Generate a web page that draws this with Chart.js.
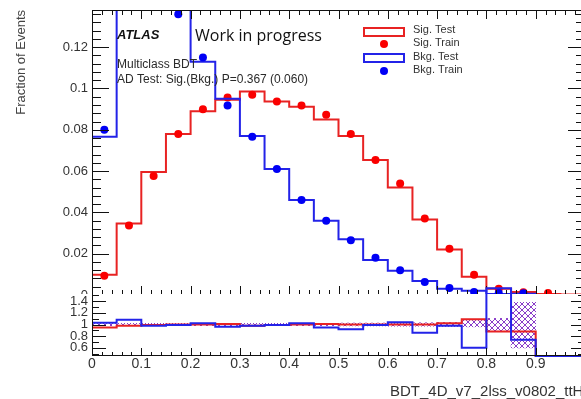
<!DOCTYPE html>
<html>
<head>
<meta charset="utf-8">
<script src="https://cdn.jsdelivr.net/npm/chart.js@4.4.1/dist/chart.umd.min.js"></script>
<style>
  html, body { margin: 0; padding: 0; background: #fff; overflow: hidden; }
  #wrap { position: relative; width: 581px; height: 399px; overflow: hidden; }
  #mainBox { position: absolute; left: 0; top: 0; width: 600px; height: 294px; overflow: hidden; }
  #mainCanvas { position: absolute; left: 0; top: 0; }
  #ratioCanvas { position: absolute; left: 0; top: 280px; }
</style>
</head>
<body>
<div id="wrap">
  <div id="mainBox"><canvas id="mainCanvas" width="600" height="299"></canvas></div>
  <canvas id="ratioCanvas" width="600" height="119"></canvas>
</div>
<script>
// BDT score binning (20 bins of 0.05)
const binEdges = [0, 0.05, 0.1, 0.15, 0.2, 0.25, 0.3, 0.35, 0.4, 0.45, 0.5,
                  0.55, 0.6, 0.65, 0.7, 0.75, 0.8, 0.85, 0.9, 0.95, 1.0];

// normalised distributions
const sigTest  = [0.0098, 0.0346, 0.0595, 0.078, 0.089, 0.0946, 0.0985, 0.0937, 0.0912, 0.085,
                  0.077, 0.0654, 0.052, 0.0366, 0.022, 0.0088, 0.003, 0.0015, 0.0005, 0.0002];
const sigTrain = [0.0093, 0.0337, 0.0576, 0.078, 0.090, 0.0956, 0.097, 0.0937, 0.0917, 0.0873,
                  0.078, 0.0654, 0.054, 0.037, 0.0224, 0.0098, 0.003, 0.0013, 0.001, null];
const bkgTest  = [0.0766, 0.165, 0.16, 0.142, 0.113, 0.095, 0.077, 0.061, 0.046, 0.036,
                  0.027, 0.017, 0.0117, 0.0068, 0.003, 0.002, 0.0005, 0.0006, 0, 0];
const bkgTrain = [0.080, 0.16, 0.158, 0.136, 0.115, 0.0917, 0.0766, 0.061, 0.046, 0.036,
                  0.0265, 0.018, 0.012, 0.0063, 0.0034, 0.0015, 0.001, 0.0008, null, null];

// ratio panel
const sigRatio = [0.95, 0.98, 0.99, 1.0, 1.0, 1.01, 0.98, 0.99, 1.0, 1.01,
                  1.0, 1.0, 1.0, 1.0, 1.02, 1.09, 0.88, 0.88, 0, 0];
const bkgRatio = [1.03, 1.08, 0.98, 0.99, 1.02, 0.96, 0.98, 0.99, 1.02, 0.95,
                  0.92, 0.99, 1.04, 0.86, 0.98, 0.60, 1.62, 0.74, 0, 0];
const bandLow  = [0.98, 0.98, 0.98, 0.98, 0.98, 0.98, 0.98, 0.98, 0.98, 0.98,
                  0.975, 0.975, 0.97, 0.97, 0.965, 0.96, 0.877, 0.60, null, null];
const bandHigh = [1.02, 1.02, 1.02, 1.02, 1.02, 1.02, 1.02, 1.02, 1.02, 1.02,
                  1.025, 1.025, 1.03, 1.03, 1.035, 1.08, 1.105, 1.38, null, null];

const legendLabels = ['Sig. Test', 'Sig. Train', 'Bkg. Test', 'Bkg. Train'];
const ratioMin = 0.46, ratioMax = 1.54;

const RED_LINE = 'rgb(232,35,35)';
const RED_DOT = 'rgb(250,0,0)';
const BLUE_LINE = 'rgb(35,35,232)';
const BLUE_DOT = 'rgb(0,0,245)';
const FONT = '"Liberation Sans", Arial, sans-serif';

// histogram outline: one point per bin edge, last bin repeated
function histPoints(values, lo) {
  return binEdges.map((e, i) => {
    let v = values[Math.min(i, values.length - 1)];
    if (lo !== undefined) v = Math.max(v, lo);
    return { x: e, y: v };
  });
}
function binCenters(values) {
  return values.map((v, i) => ({ x: (binEdges[i] + binEdges[i + 1]) / 2, y: v }));
}
function fmt(v) { return String(+v.toFixed(4)); }

// fixed-width y axis, no extra label padding around the plot area
function fixYAxis(scale) {
  scale.width = 92;
  scale.paddingTop = 0;
  scale.paddingBottom = 0;
}

function crossHatch() {
  const c = document.createElement('canvas');
  c.width = 6; c.height = 6;
  const g = c.getContext('2d');
  g.strokeStyle = 'rgba(125,40,195,0.9)';
  g.lineWidth = 1;
  g.beginPath();
  g.moveTo(0, 0); g.lineTo(6, 6);
  g.moveTo(6, 0); g.lineTo(0, 6);
  g.stroke();
  return g.createPattern(c, 'repeat');
}

// ROOT-style frame with inward ticks
const frameTicks = {
  id: 'frameTicks',
  afterDatasetsDraw(chart, args, opts) {
    const { ctx, chartArea: a, scales } = chart;
    ctx.save();
    ctx.strokeStyle = '#111';
    ctx.lineWidth = 1;
    ctx.beginPath();
    ctx.moveTo(a.left + 0.5, a.bottom - 0.5);
    ctx.lineTo(a.left + 0.5, a.top + 0.5);
    if (!opts.noTop) ctx.lineTo(a.right - 0.5, a.top + 0.5);
    else ctx.moveTo(a.right - 0.5, a.top + 0.5);
    ctx.lineTo(a.right - 0.5, a.bottom - 0.5);
    ctx.lineTo(a.left + 0.5, a.bottom - 0.5);
    ['x', 'y'].forEach(id => {
      const o = opts[id], sc = scales[id];
      const k0 = Math.ceil(sc.min / o.minor - 1e-6), k1 = Math.floor(sc.max / o.minor + 1e-6);
      for (let k = k0; k <= k1; k++) {
        const v = k * o.minor;
        const major = Math.abs(v / o.major - Math.round(v / o.major)) < 1e-6;
        const len = major ? o.majorLen : o.minorLen;
        const p = Math.round(sc.getPixelForValue(v)) + 0.5;
        o.sides.forEach(s => {
          if (s === 'top') { ctx.moveTo(p, a.top); ctx.lineTo(p, a.top + len); }
          if (s === 'bottom') { ctx.moveTo(p, a.bottom); ctx.lineTo(p, a.bottom - len); }
          if (s === 'left') { ctx.moveTo(a.left, p); ctx.lineTo(a.left + len, p); }
          if (s === 'right') { ctx.moveTo(a.right, p); ctx.lineTo(a.right - len, p); }
        });
      }
    });
    ctx.stroke();
    ctx.restore();
  }
};

// labels and legend of the upper pad
const mainText = {
  id: 'mainText',
  afterDraw(chart) {
    const ctx = chart.ctx;
    ctx.save();
    ctx.textBaseline = 'middle';
    ctx.textAlign = 'left';
    ctx.fillStyle = '#111';
    ctx.font = 'italic bold 13px ' + FONT;
    ctx.fillText('ATLAS', 117, 35);
    ctx.font = '16px "Open Sans", sans-serif';
    ctx.fillText('Work in progress', 195, 36);
    ctx.fillStyle = '#2a2a2a';
    ctx.font = '12px ' + FONT;
    ctx.fillText('Multiclass BDT', 117, 65);
    ctx.fillText('AD Test: Sig.(Bkg.) P=0.367 (0.060)', 117, 80);

    // legend
    ctx.lineWidth = 2;
    ctx.strokeStyle = RED_LINE;
    ctx.strokeRect(364, 28, 40, 8);
    ctx.strokeStyle = BLUE_LINE;
    ctx.strokeRect(364, 54, 40, 8);
    ctx.fillStyle = RED_DOT;
    ctx.beginPath(); ctx.arc(384, 44, 4, 0, Math.PI * 2); ctx.fill();
    ctx.fillStyle = BLUE_DOT;
    ctx.beginPath(); ctx.arc(384, 71, 4, 0, Math.PI * 2); ctx.fill();
    ctx.fillStyle = '#333';
    ctx.font = '11px ' + FONT;
    [30, 43, 57, 70].forEach((y, i) => ctx.fillText(legendLabels[i], 413, y));
    ctx.restore();
  }
};

const ratioText = {
  id: 'ratioText',
  afterDraw(chart) {
    const ctx = chart.ctx;
    ctx.save();
    ctx.fillStyle = '#333';
    ctx.font = '15px ' + FONT;
    ctx.textBaseline = 'middle';
    ctx.fillText('BDT_4D_v7_2lss_v0802_ttH', 390, 112);
    ctx.restore();
  }
};

const common = {
  responsive: false,
  devicePixelRatio: 1,
  animation: false,
  events: [],
  plugins: { legend: { display: false }, tooltip: { enabled: false } }
};

new Chart(document.getElementById('mainCanvas'), {
  type: 'line',
  data: {
    datasets: [
      { data: binCenters(bkgTrain), showLine: false, pointRadius: 4, pointBorderWidth: 0,
        pointBackgroundColor: BLUE_DOT, borderColor: BLUE_DOT },
      { data: histPoints(bkgTest), stepped: true, borderColor: BLUE_LINE, borderWidth: 2,
        pointRadius: 0, fill: false, borderJoinStyle: 'miter' },
      { data: binCenters(sigTrain), showLine: false, pointRadius: 4, pointBorderWidth: 0,
        pointBackgroundColor: RED_DOT, borderColor: RED_DOT },
      { data: histPoints(sigTest), stepped: true, borderColor: RED_LINE, borderWidth: 2,
        pointRadius: 0, fill: false, borderJoinStyle: 'miter' }
    ]
  },
  options: {
    ...common,
    layout: { padding: { left: 0, top: 10, right: 15, bottom: 1 } },
    scales: {
      x: { type: 'linear', min: 0, max: 1, display: false, ticks: { display: false } },
      y: {
        min: 0, max: 0.138,
        afterFit: fixYAxis,
        grid: { display: false, drawTicks: false },
        border: { display: false },
        ticks: { stepSize: 0.02, includeBounds: false, autoSkip: false, padding: 4, color: '#333',
                 font: { family: FONT, size: 13 }, callback: fmt },
        title: { display: true, text: 'Fraction of Events', align: 'end', color: '#444',
                 font: { family: FONT, size: 13 }, padding: { top: 14, bottom: 0 } }
      }
    },
    plugins: {
      ...common.plugins,
      frameTicks: {
        x: { major: 0.1, minor: 0.02, majorLen: 9, minorLen: 5, sides: ['top', 'bottom'] },
        y: { major: 0.02, minor: 0.004, majorLen: 17, minorLen: 9, sides: ['left', 'right'] }
      }
    }
  },
  plugins: [frameTicks, mainText]
});

new Chart(document.getElementById('ratioCanvas'), {
  type: 'line',
  data: {
    datasets: [
      { data: histPoints(bkgRatio, ratioMin), stepped: true, borderColor: BLUE_LINE, borderWidth: 2,
        pointRadius: 0, fill: false, clip: { left: 0, top: 8, right: 0, bottom: 1 } },
      { data: histPoints(sigRatio, ratioMin), stepped: true, borderColor: RED_LINE, borderWidth: 2,
        pointRadius: 0, fill: false, clip: { left: 0, top: 0, right: 0, bottom: 1 } },
      { type: 'bar',
        data: bandLow.map((lo, i) => ({ x: (binEdges[i] + binEdges[i + 1]) / 2,
                                        y: lo === null ? null : [lo, bandHigh[i]] })),
        backgroundColor: crossHatch(), borderWidth: 0,
        barPercentage: 1, categoryPercentage: 1 }
    ]
  },
  options: {
    ...common,
    layout: { padding: { left: 0, top: 13, right: 15, bottom: 0 } },
    scales: {
      x: {
        type: 'linear', min: 0, max: 1, offset: false,
        afterFit(scale) { scale.height = 43; },
        grid: { display: false, drawTicks: false },
        border: { display: false },
        ticks: { stepSize: 0.1, autoSkip: false, maxRotation: 0, padding: 0, color: '#333',
                 font: { family: FONT, size: 14 }, callback: fmt }
      },
      y: {
        min: ratioMin, max: ratioMax,
        afterFit: fixYAxis,
        grid: { display: false, drawTicks: false },
        border: { display: false },
        ticks: { stepSize: 0.2, includeBounds: false, autoSkip: false, padding: 4, color: '#333',
                 font: { family: FONT, size: 13 }, callback: fmt }
      }
    },
    plugins: {
      ...common.plugins,
      frameTicks: {
        noTop: true,
        x: { major: 0.1, minor: 0.02, majorLen: 8, minorLen: 4, sides: ['bottom'] },
        y: { major: 0.2, minor: 0.1, majorLen: 14, minorLen: 7, sides: ['left', 'right'] }
      }
    }
  },
  plugins: [frameTicks, ratioText]
});
</script>
</body>
</html>
